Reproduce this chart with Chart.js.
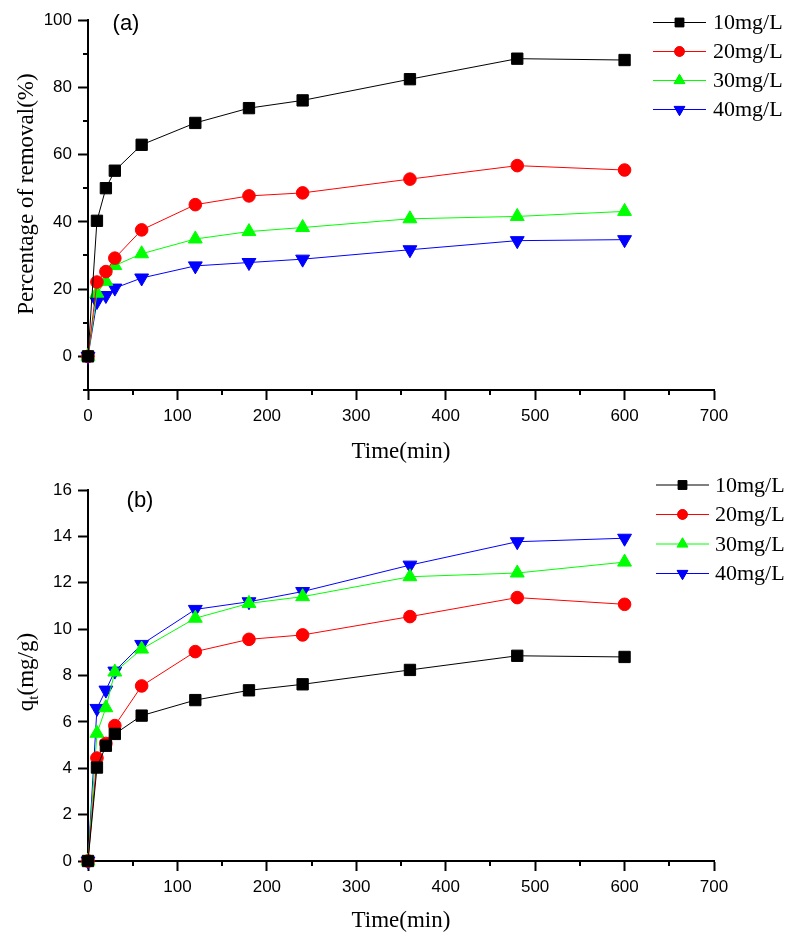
<!DOCTYPE html>
<html>
<head>
<meta charset="utf-8">
<script src="https://cdn.jsdelivr.net/npm/chart.js@4.4.0/dist/chart.umd.min.js"></script>
<style>
  body { margin: 0; background: #fff; }
  canvas { display: block; }
</style>
</head>
<body>
<canvas id="chartA" width="787" height="466"></canvas>
<canvas id="chartB" width="787" height="466"></canvas>
<script>
// contact time (min)
const time = [0, 10, 20, 30, 60, 120, 180, 240, 360, 480, 600];
const seriesNames = ['10mg/L', '20mg/L', '30mg/L', '40mg/L'];

// (a) percentage of removal
const removal10 = [0, 40.3, 50.0, 55.2, 62.9, 69.4, 73.8, 76.1, 82.4, 88.5, 88.1];
const removal20 = [0, 22.1, 25.2, 29.2, 37.6, 45.1, 47.7, 48.6, 52.7, 56.7, 55.4];
const removal30 = [0, 18.8, 22.3, 27.0, 30.5, 34.9, 37.1, 38.3, 40.9, 41.6, 43.1];
const removal40 = [0, 16.3, 18.1, 20.3, 23.3, 26.9, 27.9, 28.9, 31.7, 34.4, 34.7];

// (b) qt (mg/g)
const qt10 = [0, 4.03, 4.97, 5.48, 6.27, 6.94, 7.36, 7.62, 8.24, 8.85, 8.80];
const qt20 = [0, 4.44, 5.07, 5.84, 7.55, 9.03, 9.56, 9.75, 10.54, 11.36, 11.07];
const qt30 = [0, 5.51, 6.61, 8.15, 9.14, 10.47, 11.11, 11.40, 12.26, 12.42, 12.89];
const qt40 = [0, 6.58, 7.37, 8.19, 9.34, 10.85, 11.18, 11.62, 12.76, 13.77, 13.92];

// minor tick positions
const xMinor = [50, 150, 250, 350, 450, 550, 650];
const yMinorA = [-10, 10, 30, 50, 70, 90];
const yMinorB = [];

const colors = ['#000000', '#ff0000', '#00ff00', '#0000ff'];
const markers = ['rect', 'circle', 'triangle', 'triangle'];
const rotations = [0, 0, 0, 180];
const radii = [8, 6.3, 8, 8];

const SANS = '"Liberation Sans", Arial, sans-serif';
const SERIF = '"Liberation Serif", "Times New Roman", serif';

function makeDatasets(arrays) {
  return arrays.map((vals, i) => ({
    label: seriesNames[i],
    data: vals.map((v, j) => ({ x: time[j], y: v })),
    borderColor: colors[i],
    backgroundColor: colors[i],
    borderWidth: 1,
    pointStyle: markers[i],
    rotation: rotations[i],
    pointRadius: radii[i],
    pointHoverRadius: radii[i],
    pointBorderWidth: 1,
    pointBorderColor: colors[i],
    pointBackgroundColor: colors[i],
    tension: 0,
    clip: false
  }));
}

const decor = {
  id: 'decor',
  afterDraw(chart, args, o) {
    const ctx = chart.ctx;
    const area = chart.chartArea;
    const xs = chart.scales.x, ys = chart.scales.y;
    ctx.save();
    // minor ticks
    ctx.strokeStyle = '#000';
    ctx.lineWidth = 2;
    ctx.beginPath();
    for (const v of o.xMinor) {
      const px = Math.round(xs.getPixelForValue(v));
      ctx.moveTo(px, area.bottom);
      ctx.lineTo(px, area.bottom + 5);
    }
    for (const v of o.yMinor) {
      const py = Math.round(ys.getPixelForValue(v));
      ctx.moveTo(area.left, py);
      ctx.lineTo(area.left - 5, py);
    }
    ctx.stroke();

    ctx.fillStyle = '#000';
    // panel letter
    ctx.font = '22px ' + SANS;
    ctx.textAlign = 'center';
    ctx.textBaseline = 'middle';
    ctx.fillText(o.panel, o.panelX, o.panelY);

    // x title
    ctx.font = '23px ' + SERIF;
    ctx.fillText('Time(min)', (area.left + area.right) / 2, o.xTitleY);

    // y title (rotated, optional subscript)
    ctx.save();
    ctx.translate(o.yTitleX, o.yTitleY);
    ctx.rotate(-Math.PI / 2);
    ctx.textAlign = 'left';
    ctx.textBaseline = 'middle';
    const parts = o.yTitle;
    let total = 0;
    for (const p of parts) {
      ctx.font = (p.sub ? '15px ' : '23px ') + SERIF;
      total += ctx.measureText(p.text).width;
    }
    let cx = -total / 2;
    for (const p of parts) {
      ctx.font = (p.sub ? '15px ' : '23px ') + SERIF;
      ctx.fillText(p.text, cx, p.sub ? 7 : 0);
      cx += ctx.measureText(p.text).width;
    }
    ctx.restore();

    // legend
    const L = o.legend;
    chart.data.datasets.forEach((ds, i) => {
      const y = L.y + i * L.step;
      ctx.strokeStyle = ds.borderColor;
      ctx.lineWidth = 1;
      ctx.beginPath();
      ctx.moveTo(L.x0, y);
      ctx.lineTo(L.x1, y);
      ctx.stroke();
      Chart.helpers.drawPoint(ctx, {
        pointStyle: ds.pointStyle,
        rotation: ds.rotation,
        radius: ds.pointRadius * 0.78,
        borderWidth: 1
      }, (L.x0 + L.x1) / 2, y);
      ctx.fillStyle = ds.backgroundColor;
      ctx.fill();
      ctx.fillStyle = '#000';
      ctx.font = '22px ' + SERIF;
      ctx.textAlign = 'left';
      ctx.textBaseline = 'middle';
      ctx.fillText(ds.label, L.tx, y + 1);
    });
    ctx.restore();
  }
};

function axisOpts(min, max, step, fixed, hide, pad) {
  return {
    type: 'linear',
    min: min,
    max: max,
    afterFit: fixed,
    border: { display: true, color: '#000', width: 2 },
    grid: { display: true, drawOnChartArea: false, drawTicks: true, tickLength: 10, tickColor: '#000', tickWidth: 2 },
    ticks: {
      stepSize: step,
      autoSkip: false,
      maxRotation: 0,
      color: '#000',
      font: { family: SANS, size: 17 },
      padding: pad,
      callback: v => (hide && hide.includes(v)) ? null : v
    }
  };
}

function build(id, arrays, cfg) {
  return new Chart(document.getElementById(id), {
    type: 'line',
    data: { datasets: makeDatasets(arrays) },
    options: {
      responsive: false,
      animation: false,
      layout: { padding: { left: 0, top: cfg.top, right: 73, bottom: 0 } },
      scales: {
        x: axisOpts(0, 700, 100, s => { s.height = cfg.xh; }, null, 6),
        y: axisOpts(cfg.ymin, cfg.ymax, cfg.ystep, s => { s.width = 88; }, cfg.yHide, 6)
      },
      plugins: {
        legend: { display: false },
        tooltip: { enabled: false },
        decor: cfg.decor
      }
    },
    plugins: [decor]
  });
}

build('chartA', [removal10, removal20, removal30, removal40], {
  top: 20, xh: 76, ymin: -10, ymax: 100, ystep: 20, yHide: [-10],
  decor: {
    xMinor: xMinor, yMinor: yMinorA,
    panel: '(a)', panelX: 126, panelY: 24,
    xTitleY: 452,
    yTitle: [{ text: 'Percentage of removal(%)' }],
    yTitleX: 27, yTitleY: 194,
    legend: { x0: 653, x1: 706, tx: 713, y: 22.5, step: 29 }
  }
});

build('chartB', [qt10, qt20, qt30, qt40], {
  top: 24, xh: 71, ymin: 0, ymax: 16, ystep: 2, yHide: [],
  decor: {
    xMinor: xMinor, yMinor: yMinorB,
    panel: '(b)', panelX: 140, panelY: 35,
    xTitleY: 455,
    yTitle: [{ text: 'q' }, { text: 't', sub: true }, { text: '(mg/g)' }],
    yTitleX: 27, yTitleY: 206,
    legend: { x0: 656, x1: 709, tx: 715, y: 19, step: 29.5 }
  }
});
</script>
</body>
</html>
